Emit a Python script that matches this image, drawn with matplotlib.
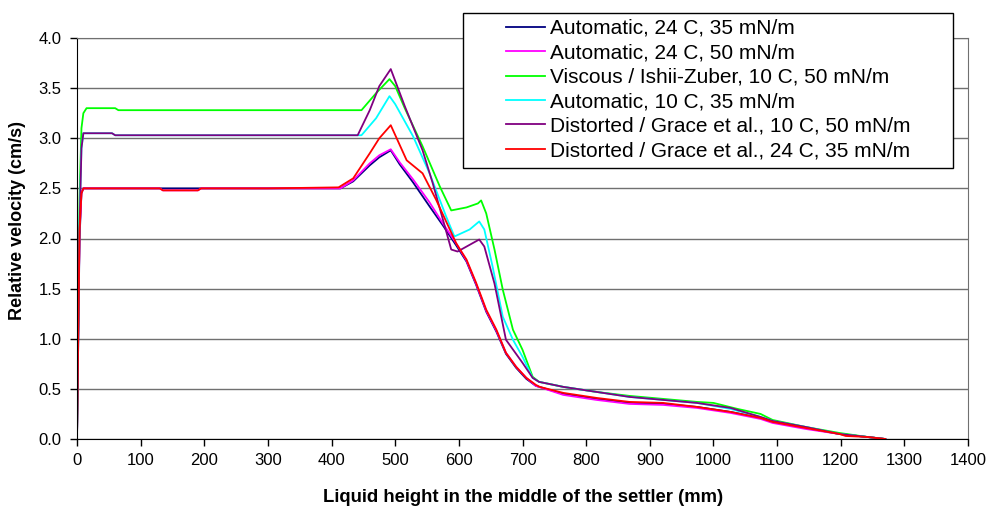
import matplotlib
matplotlib.use('Agg')
import matplotlib.pyplot as plt
from matplotlib.patches import Rectangle

plt.rcParams['font.family'] = ['Liberation Sans', 'DejaVu Sans']

# liquid height (mm) and relative velocity (cm/s)
x_auto24_35 = [0, 2, 4, 7, 10, 60, 300, 414, 434, 460, 475, 493, 507, 528, 554, 575, 596, 612, 627,
               643, 659, 674, 690, 706, 721, 764, 816, 868, 921, 974, 1027, 1074, 1093, 1145, 1198, 1242, 1270]
y_auto24_35 = [0, 1.0, 2.0, 2.45, 2.5, 2.5, 2.5, 2.5, 2.57, 2.73, 2.81, 2.88, 2.74, 2.56, 2.32, 2.13, 1.93, 1.77, 1.54,
               1.27, 1.07, 0.85, 0.71, 0.60, 0.53, 0.45, 0.40, 0.36, 0.35, 0.32, 0.27, 0.21, 0.17, 0.11, 0.05, 0.02, 0.0]

x_auto24_50 = [0, 2, 4, 7, 10, 60, 130, 135, 190, 195, 300, 414, 434, 460, 475, 493, 507, 528, 554, 575, 596, 612,
               627, 643, 659, 674, 690, 706, 721, 764, 816, 868, 921, 974, 1027, 1074, 1093, 1145, 1198, 1242, 1270]
y_auto24_50 = [0, 1.1, 2.05, 2.46, 2.5, 2.5, 2.5, 2.48, 2.48, 2.5, 2.5, 2.5, 2.58, 2.75, 2.83, 2.89, 2.76, 2.59, 2.36,
               2.15, 1.95, 1.78, 1.55, 1.28, 1.08, 0.86, 0.72, 0.61, 0.53, 0.44, 0.39, 0.35, 0.34, 0.31, 0.26, 0.20,
               0.16, 0.10, 0.05, 0.02, 0.0]

x_visc10_50 = [0, 2, 4, 7, 10, 15, 60, 65, 300, 447, 470, 491, 500, 515, 543, 570, 588, 596, 612, 630, 635, 643,
               656, 669, 685, 700, 716, 726, 764, 816, 868, 921, 974, 1000, 1038, 1074, 1093, 1145, 1198, 1242, 1270]
y_visc10_50 = [0, 1.2, 2.4, 3.1, 3.25, 3.30, 3.30, 3.28, 3.28, 3.28, 3.45, 3.59, 3.52, 3.30, 2.92, 2.52, 2.28, 2.29,
               2.31, 2.35, 2.38, 2.25, 1.89, 1.49, 1.09, 0.89, 0.62, 0.57, 0.52, 0.47, 0.43, 0.40, 0.37, 0.36, 0.30,
               0.25, 0.19, 0.12, 0.06, 0.02, 0.0]

x_auto10_35 = [0, 2, 4, 7, 10, 55, 60, 300, 447, 470, 491, 500, 528, 554, 580, 593, 617, 632, 640, 653, 669, 685,
               700, 716, 726, 764, 816, 868, 921, 974, 1027, 1074, 1093, 1145, 1198, 1242, 1270]
y_auto10_35 = [0, 1.1, 2.2, 2.9, 3.05, 3.05, 3.03, 3.03, 3.03, 3.20, 3.42, 3.34, 3.02, 2.65, 2.22, 2.02, 2.09, 2.17,
               2.09, 1.72, 1.22, 0.99, 0.82, 0.61, 0.57, 0.52, 0.47, 0.42, 0.39, 0.36, 0.30, 0.22, 0.18, 0.12, 0.05,
               0.02, 0.0]

x_dist10_50 = [0, 2, 4, 7, 10, 55, 60, 300, 441, 460, 475, 493, 515, 543, 559, 578, 588, 598, 632, 640, 656, 674,
               700, 716, 726, 764, 816, 868, 921, 974, 1027, 1074, 1093, 1145, 1198, 1242, 1270]
y_dist10_50 = [0, 1.0, 2.1, 2.9, 3.05, 3.05, 3.03, 3.03, 3.03, 3.28, 3.52, 3.69, 3.32, 2.88, 2.55, 2.12, 1.89, 1.87,
               1.99, 1.92, 1.55, 0.99, 0.76, 0.61, 0.57, 0.52, 0.47, 0.42, 0.39, 0.36, 0.31, 0.22, 0.18, 0.12, 0.05,
               0.02, 0.0]

x_dist24_35 = [0, 2, 4, 7, 10, 60, 130, 135, 190, 195, 300, 411, 434, 460, 475, 493, 518, 543, 564, 596, 612, 627,
               643, 659, 674, 690, 706, 721, 727, 764, 816, 868, 921, 974, 1027, 1074, 1093, 1145, 1198, 1208, 1242,
               1270]
y_dist24_35 = [0, 1.1, 2.08, 2.45, 2.5, 2.5, 2.5, 2.48, 2.48, 2.5, 2.5, 2.51, 2.60, 2.85, 3.00, 3.13, 2.78, 2.65, 2.39,
               1.95, 1.79, 1.56, 1.29, 1.09, 0.86, 0.72, 0.61, 0.54, 0.52, 0.46, 0.41, 0.37, 0.36, 0.32, 0.27, 0.21,
               0.17, 0.11, 0.05, 0.03, 0.02, 0.0]

labels = ['Automatic, 24 C, 35 mN/m',
          'Automatic, 24 C, 50 mN/m',
          'Viscous / Ishii-Zuber, 10 C, 50 mN/m',
          'Automatic, 10 C, 35 mN/m',
          'Distorted / Grace et al., 10 C, 50 mN/m',
          'Distorted / Grace et al., 24 C, 35 mN/m']
colores = ['#000080', '#FF00FF', '#00FF00', '#00FFFF', '#800080', '#FF0000']

xs = [x_auto24_35, x_auto24_50, x_visc10_50, x_auto10_35, x_dist10_50, x_dist24_35]
ys = [y_auto24_35, y_auto24_50, y_visc10_50, y_auto10_35, y_dist10_50, y_dist24_35]

fig = plt.figure(figsize=(9.9, 5.08), dpi=100)
ax = fig.add_axes([77/990, 1-439/508, (968-77)/990, (439-38)/508])

lineas = []
for x, y, c, l in zip(xs, ys, colores, labels):
    ln, = ax.plot(x, y, color=c, lw=1.3, label=l)
    lineas.append(ln)

ax.set_xlim(0, 1400)
ax.set_ylim(0, 4.0)
ax.set_xticks(range(0, 1401, 100))
ax.set_yticks([i*0.5 for i in range(9)])
ax.set_yticklabels(['%.1f' % (i*0.5) for i in range(9)])
ax.tick_params(axis='both', direction='out', length=5, width=1, labelsize=12, colors='black')
ax.tick_params(axis='x', pad=5)
ax.tick_params(axis='y', pad=6)
ax.grid(axis='y', color='#707070', lw=1)
ax.set_axisbelow(True)
ax.spines['left'].set_color('black')
ax.spines['bottom'].set_color('black')
ax.spines['top'].set_color('#707070')
ax.spines['right'].set_color('#707070')

fig.text(18/990, 1-220/508, 'Relative velocity (cm/s)', rotation=90, ha='center', va='center',
         fontsize=13, fontweight='bold')
fig.text(523/990, 1-498/508, 'Liquid height in the middle of the settler (mm)', ha='center', va='center',
         fontsize=13.3, fontweight='bold')

# legend box
caja = Rectangle((462.7/990, 1-168.3/508), (953-462.7)/990, (168.3-13.3)/508, transform=fig.transFigure,
                 facecolor='white', edgecolor='black', lw=1, zorder=5)
fig.patches.append(caja)
leg = fig.legend(handles=lineas, loc='upper left', bbox_to_anchor=(506/990, 1-19/508), frameon=False,
                 fontsize=15, borderpad=0, borderaxespad=0, handlelength=1.87, handletextpad=0.24,
                 labelspacing=0.26)
leg.set_zorder(6)

fig.savefig('out.png', dpi=100)
